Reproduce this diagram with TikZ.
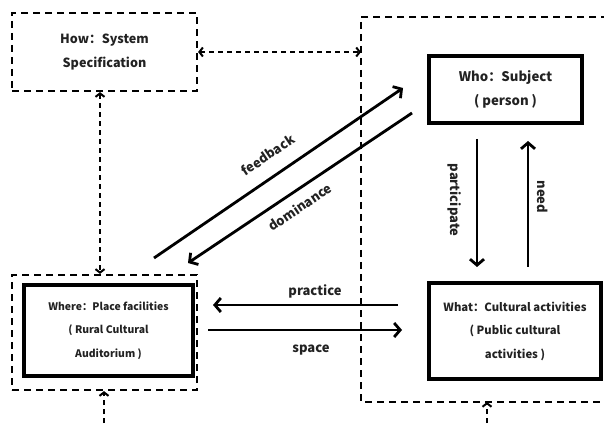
\documentclass[tikz,border=0pt]{standalone}
\usepackage{fontspec}
\setmainfont{Noto Sans CJK SC}
\usetikzlibrary{arrows.meta}
\definecolor{txt}{HTML}{222222}
\tikzset{
  dtip/.tip={Straight Barb[length=3.5pt,width=9pt]},
  stip/.tip={Straight Barb[length=6pt,width=14pt]},
  dbox/.style={draw, line width=2.2pt, dash pattern=on 7pt off 5pt, minimum width=#1},
  sbox/.style={draw, line width=3.2pt, align=center, text=txt},
  btext/.style={align=center, text=txt},
  fs/.style={font=\bfseries\fontsize{#1}{23.5}\selectfont},
  solidarr/.style={line width=2.8pt, -stip},
  dasharr/.style={line width=2pt, dash pattern=on 5pt off 4pt},
  lbl/.style={text=txt, font=\bfseries\fontsize{13}{15}\selectfont}
}
\begin{document}
\begin{tikzpicture}[x=1pt,y=-1pt]
\useasboundingbox (0,0) rectangle (604,427);
% How box
\node[dbox=185pt, minimum height=78pt, btext, fs=12.6] (how) at (104.5,52) {How：System\\Specification};
% Where boxes
\node[dbox=185pt, minimum height=115pt] (whereout) at (104.5,332.5) {};
\node[sbox, minimum width=169pt, minimum height=91pt, fs=10.4] (where) at (108.5,330.5) {Where：Place facilities\\( Rural Cultural\\Auditorium )};
% Who and What boxes
\node[sbox, minimum width=153pt, minimum height=67pt, fs=13.2] (who) at (505.5,89.5) {Who：Subject\\( person )};
\node[sbox, minimum width=172pt, minimum height=96pt, fs=11.3] (what) at (515,331) {What：Cultural activities\\( Public cultural\\activities )};
% right dashed region (open to the right)
\draw[line width=2.2pt, dash pattern=on 7pt off 5pt] (608,17) -- (361,17) -- (361,402) -- (608,402);
\coordinate (rl) at (361,52);
\coordinate (rb) at (487,402);
\coordinate (b1) at (104,432);
\coordinate (b2) at (487,432);
% dashed arrows
\draw[dasharr, dtip-dtip] (how.east) -- (rl);
\draw[dasharr, dtip-dtip] ([xshift=-4.5pt]how.south) -- ([xshift=-4.5pt]whereout.north);
\draw[dasharr, -dtip] (b1) -- (b1 |- whereout.south);
\draw[dasharr, -dtip] (b2) -- (rb);
% diagonal arrows
\coordinate (fb1) at (154,258);
\coordinate (fb2) at (403,88);
\coordinate (dm1) at (412,113);
\coordinate (dm2) at (188,263);
\draw[solidarr] (fb1) -- (fb2);
\draw[solidarr] (dm1) -- (dm2);
\node[lbl, rotate=34] (lfb) at (268,155) {feedback};
\node[lbl, rotate=34] (ldm) at (300,207) {dominance};
% horizontal arrows
\coordinate (pr1) at (398,305);
\coordinate (pr2) at (213,305);
\coordinate (sp1) at (208,330);
\coordinate (sp2) at (402,330);
\draw[solidarr] (pr1) -- (pr2);
\draw[solidarr] (sp1) -- (sp2);
\node[lbl] (lpr) at (315,291) {practice};
\node[lbl] (lsp) at (311,350) {space};
% vertical arrows
\coordinate (pa1) at (477,139);
\coordinate (pa2) at (477,267);
\coordinate (ne1) at (528,267);
\coordinate (ne2) at (528,141);
\draw[solidarr] (pa1) -- (pa2);
\draw[solidarr] (ne1) -- (ne2);
\node[lbl, rotate=-90] (lpa) at (455,200) {participate};
\node[lbl, rotate=-90] (lne) at (543,197) {need};
\end{tikzpicture}
\end{document}
